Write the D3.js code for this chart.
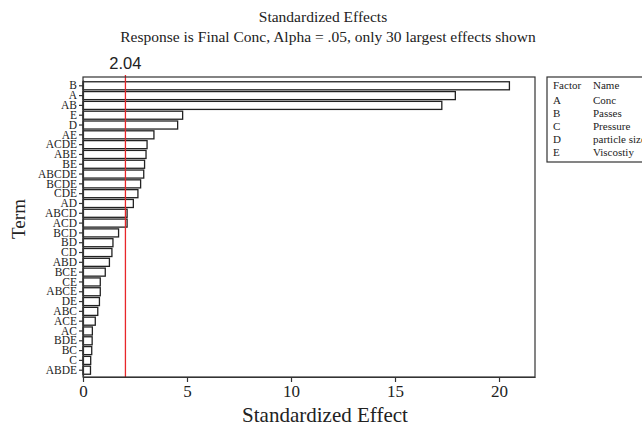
<!DOCTYPE html>
<html>
<head>
<meta charset="utf-8">
<script src="https://cdn.jsdelivr.net/npm/d3@7/dist/d3.min.js"></script>
<style>
  body { margin: 0; background: #fff; }
  text { font-family: "Liberation Serif", "Times New Roman", serif; fill: #222; }
</style>
</head>
<body>
<div id="chart"></div>
<script>
// terms sorted largest first, as in the pareto
var terms = ["B", "A", "AB", "E", "D", "AE", "ACDE", "ABE", "BE", "ABCDE",
             "BCDE", "CDE", "AD", "ABCD", "ACD", "BCD", "BD", "CD", "ABD", "BCE",
             "CE", "ABCE", "DE", "ABC", "ACE", "AC", "BDE", "BC", "C", "ABDE"];
var effects = [20.5, 17.9, 17.25, 4.79, 4.55, 3.41, 3.08, 3.03, 2.96, 2.92,
               2.77, 2.64, 2.42, 2.12, 2.12, 1.71, 1.44, 1.39, 1.27, 1.07,
               0.83, 0.83, 0.79, 0.71, 0.59, 0.45, 0.44, 0.42, 0.37, 0.36];
var xTicks = [0, 5, 10, 15, 20];
var refValue = 2.04;

var factors = ["A", "B", "C", "D", "E"];
var factorNames = ["Conc", "Passes", "Pressure", "particle size", "Viscostiy"];

var W = 642, H = 428;
var margin = { top: 77, left: 83, right: 107, bottom: 51 },
    width = W - margin.left - margin.right,
    height = H - margin.top - margin.bottom;

var svg = d3.select("#chart").append("svg")
  .attr("width", W).attr("height", H);

// titles
svg.append("text").attr("x", 323).attr("y", 22)
  .attr("text-anchor", "middle").style("font-size", "15.5px")
  .text("Standardized Effects");
svg.append("text").attr("x", 328).attr("y", 42)
  .attr("text-anchor", "middle").style("font-size", "15.5px")
  .text("Response is Final Conc, Alpha = .05, only 30 largest effects shown");

var g = svg.append("g")
  .attr("transform", "translate(" + margin.left + "," + margin.top + ")");

var x = d3.scaleLinear().domain([0, 21.73]).range([0, width]);
var y = d3.scaleBand().domain(terms).range([3, height - 1]).padding(0.18);

// bars
g.selectAll(".bar")
  .data(terms)
  .enter().append("rect")
  .attr("class", "bar")
  .attr("x", x(0))
  .attr("y", function(d) { return y(d); })
  .attr("width", function(d, i) { return x(effects[i]) - x(0); })
  .attr("height", y.bandwidth())
  .attr("fill", "#fff")
  .attr("stroke", "#222")
  .attr("stroke-width", 1.3);

// reference line
g.append("line")
  .attr("x1", x(refValue)).attr("x2", x(refValue))
  .attr("y1", -2).attr("y2", height)
  .attr("stroke", "#e8262a").attr("stroke-width", 1.3);
svg.append("text")
  .attr("x", margin.left + x(refValue)).attr("y", 69)
  .attr("text-anchor", "middle")
  .style("font-family", "'Liberation Sans', Arial, sans-serif")
  .style("font-size", "16.5px")
  .text("2.04");

// frame
g.append("rect")
  .attr("x", 0).attr("y", 0).attr("width", width).attr("height", height)
  .attr("fill", "none").attr("stroke", "#333").attr("stroke-width", 1.2);

// axes
var xAxis = g.append("g")
  .attr("transform", "translate(0," + height + ")")
  .call(d3.axisBottom(x).tickValues(xTicks).tickSize(5).tickSizeOuter(0).tickPadding(3));
xAxis.selectAll("text").style("font-size", "17px").style("fill", "#222");

var yAxis = g.append("g")
  .call(d3.axisLeft(y).tickSize(4).tickSizeOuter(0).tickPadding(2));
yAxis.selectAll("text").style("font-size", "11.5px").style("fill", "#222");

g.selectAll(".domain").attr("stroke", "#333").attr("stroke-width", 1.2);
g.selectAll(".tick line").attr("stroke", "#333").attr("stroke-width", 1.2);

// axis titles
svg.append("text")
  .attr("x", 325).attr("y", 422)
  .attr("text-anchor", "middle").style("font-size", "21px")
  .text("Standardized Effect");
svg.append("text")
  .attr("transform", "translate(25,219) rotate(-90)")
  .attr("text-anchor", "middle").style("font-size", "19px")
  .text("Term");

// factor legend box
var leg = svg.append("g").attr("transform", "translate(547,77)");
leg.append("rect")
  .attr("x", 0).attr("y", 0).attr("width", 110).attr("height", 85)
  .attr("fill", "#fff").attr("stroke", "#333").attr("stroke-width", 1.2);
leg.append("text").attr("x", 6).attr("y", 12).style("font-size", "11px").text("Factor");
leg.append("text").attr("x", 46).attr("y", 12).style("font-size", "11px").text("Name");
factors.forEach(function(f, i) {
  leg.append("text").attr("x", 6).attr("y", 27 + i * 13)
    .style("font-size", "11px").text(f);
  leg.append("text").attr("x", 46).attr("y", 27 + i * 13)
    .style("font-size", "11px").text(factorNames[i]);
});
</script>
</body>
</html>
